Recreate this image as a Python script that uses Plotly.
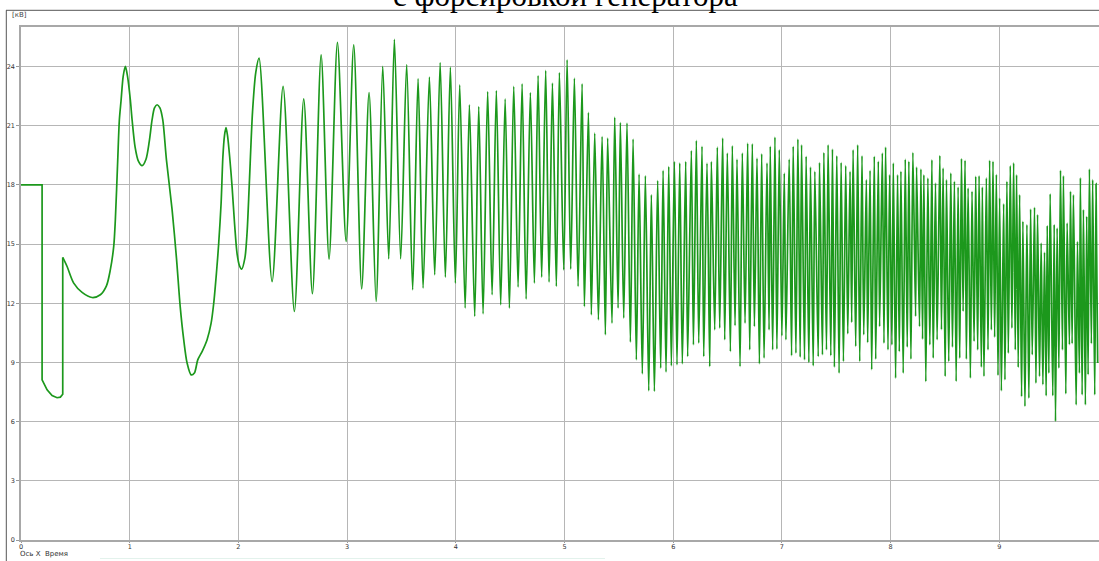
import plotly.graph_objects as go

# ---------------- data (time [s], voltage [kV]) ----------------
t_start = [0, 0.194, 0.194, 0.24, 0.286, 0.332, 0.362, 0.384, 0.384]
v_start = [18, 18, 8.12, 7.61, 7.32, 7.21, 7.24, 7.39, 14.32]

t_swing = [0.384, 0.424, 0.485, 0.562, 0.654, 0.730, 0.786, 0.822, 0.853, 0.868,
           0.890, 0.905, 0.921, 0.940, 0.960, 0.980, 1.006, 1.022, 1.050, 1.080,
           1.114, 1.150, 1.180, 1.206, 1.228, 1.252, 1.278, 1.304, 1.338, 1.390,
           1.430, 1.465, 1.497, 1.528, 1.565, 1.595, 1.626, 1.666, 1.712, 1.749,
           1.773, 1.798, 1.819, 1.841, 1.857, 1.872, 1.886, 1.900, 1.920, 1.942,
           1.965, 1.988, 2.010, 2.030, 2.060, 2.080, 2.100, 2.130, 2.160]
v_swing = [14.32, 13.86, 13.02, 12.55, 12.29, 12.43, 12.88, 13.70, 14.88, 16.23,
           19.27, 21.30, 22.30, 23.50, 24.00, 23.50, 22.30, 21.30, 19.90, 19.20,
           18.97, 19.30, 20.20, 21.30, 21.90, 22.06, 21.90, 21.30, 19.27, 16.74,
           14.30, 11.80, 10.15, 8.97, 8.37, 8.46, 9.13, 9.55, 10.15, 10.99,
           12.00, 13.53, 15.05, 17.08, 19.40, 20.50, 20.90, 20.50, 19.40, 17.90,
           16.00, 14.50, 13.90, 13.73, 14.30, 15.60, 18.00, 21.70, 23.70]

t_grow = [2.190, 2.310, 2.411, 2.515, 2.601, 2.681, 2.761, 2.834, 2.911, 2.991,
          3.061, 3.134, 3.202, 3.267, 3.328, 3.383, 3.435, 3.493, 3.548, 3.603,
          3.653, 3.699, 3.757, 3.806, 3.856, 3.904, 3.950, 3.996, 4.036, 4.086,
          4.125, 4.174, 4.211, 4.251, 4.293, 4.334, 4.373, 4.413, 4.454, 4.493,
          4.533, 4.573, 4.610, 4.647, 4.686, 4.723, 4.757, 4.790, 4.827, 4.858,
          4.889, 4.925, 4.953, 4.993, 5.024, 5.057, 5.091, 5.125, 5.162, 5.183,
          5.220, 5.247, 5.278, 5.312, 5.346, 5.376]
v_grow = [24.42, 13.10, 22.99, 11.58, 22.36, 12.48, 24.59, 14.24, 25.22, 15.13,
          25.10, 12.72, 22.68, 12.09, 24.00, 14.25, 25.37, 14.25, 24.09, 12.68,
          23.38, 12.77, 23.46, 13.44, 24.20, 13.32, 23.97, 13.02, 23.07, 11.75,
          22.06, 11.33, 21.97, 11.46, 22.73, 12.43, 22.78, 11.92, 22.36, 11.75,
          22.99, 12.82, 23.12, 12.21, 22.68, 13.02, 23.54, 13.32, 23.80, 13.07,
          23.16, 12.85, 23.69, 13.69, 24.34, 13.73, 23.41, 12.85, 23.12, 11.83,
          21.67, 11.41, 20.62, 11.16, 20.45, 10.40]

t_dense1 = [5.397, 5.437, 5.462, 5.493, 5.514, 5.545, 5.575, 5.606, 5.631, 5.661,
            5.686, 5.716, 5.744, 5.775, 5.799, 5.827, 5.857, 5.885, 5.907, 5.934,
            5.959, 5.983, 6.011, 6.035, 6.060, 6.084, 6.115, 6.133, 6.167, 6.186,
            6.213, 6.235, 6.265, 6.281, 6.311, 6.336, 6.351, 6.382, 6.406, 6.428,
            6.455, 6.474, 6.498, 6.526, 6.544, 6.569, 6.587, 6.615, 6.636, 6.661,
            6.685, 6.704, 6.728, 6.747, 6.771, 6.793, 6.814, 6.836, 6.863, 6.882]
v_dense1 = [20.37, 10.99, 21.43, 11.75, 21.16, 11.25, 21.13, 10.03, 20.32, 9.13,
            18.54, 8.42, 18.46, 7.56, 17.50, 7.53, 18.22, 8.71, 18.73, 8.51,
            18.93, 8.83, 19.18, 8.88, 19.10, 8.93, 19.18, 9.30, 19.74, 9.89,
            20.25, 9.98, 19.95, 9.30, 19.10, 8.79, 19.18, 10.65, 19.91, 10.74,
            20.37, 10.15, 19.61, 9.55, 19.98, 10.86, 19.30, 8.79, 19.61, 10.99,
            20.11, 9.64, 20.08, 10.82, 19.35, 8.93, 19.57, 9.22, 19.10, 10.65]

t_dense2 = [6.893, 6.915, 6.936, 6.954, 6.976, 7.000, 7.022, 7.037, 7.067, 7.089,
            7.104, 7.129, 7.147, 7.168, 7.181, 7.208, 7.223, 7.248, 7.263, 7.288,
            7.303, 7.334, 7.346, 7.373, 7.386, 7.410, 7.425, 7.450, 7.465, 7.483,
            7.505, 7.526, 7.545, 7.566, 7.587, 7.606, 7.627, 7.642, 7.655, 7.679,
            7.697, 7.716, 7.737, 7.753, 7.777, 7.789, 7.811, 7.826, 7.850, 7.863,
            7.887, 7.899, 7.924, 7.939, 7.954, 7.976, 7.991, 8.012, 8.025, 8.046,
            8.064, 8.080, 8.095, 8.116, 8.135, 8.153, 8.168, 8.187, 8.205, 8.230,
            8.239, 8.266, 8.279, 8.294, 8.306, 8.324, 8.343, 8.361, 8.380, 8.392,
            8.413, 8.428]
v_dense2 = [19.95, 9.64, 20.42, 9.67, 19.78, 10.35, 18.59, 10.15, 19.30, 9.34,
            19.95, 9.47, 20.32, 9.27, 20.03, 9.13, 19.44, 9.00, 18.90, 8.83,
            18.68, 9.30, 19.13, 9.39, 19.64, 9.64, 20.03, 9.34, 19.81, 8.76,
            19.47, 8.46, 19.13, 9.05, 18.97, 10.45, 18.68, 11.03, 19.78, 9.81,
            20.03, 9.05, 19.47, 10.40, 18.26, 10.01, 18.73, 8.63, 19.44, 9.17,
            19.19, 10.82, 19.61, 9.98, 19.91, 9.64, 18.51, 9.89, 19.10, 8.20,
            18.51, 9.55, 18.68, 8.46, 19.30, 9.78, 19.19, 9.17, 19.64, 11.33,
            18.90, 10.82, 18.80, 10.18, 18.51, 8.03, 18.34, 9.89, 19.27, 9.22,
            18.09, 10.15]

t_dense3 = [8.453, 8.468, 8.483, 8.502, 8.514, 8.535, 8.554, 8.569, 8.587, 8.603,
            8.621, 8.636, 8.652, 8.667, 8.685, 8.697, 8.713, 8.734, 8.749, 8.768,
            8.783, 8.801, 8.814, 8.835, 8.844, 8.859, 8.881, 8.896, 8.911, 8.927,
            8.942, 8.957, 8.973, 8.988, 9.003, 9.019, 9.040, 9.052, 9.070, 9.083,
            9.101, 9.116, 9.132, 9.147, 9.159, 9.174, 9.187, 9.205, 9.217, 9.236,
            9.254, 9.272, 9.288, 9.303, 9.324, 9.337, 9.352, 9.370, 9.385, 9.401,
            9.416, 9.431, 9.441, 9.456, 9.468, 9.492, 9.505, 9.517, 9.532, 9.548,
            9.563, 9.581, 9.590, 9.612, 9.624, 9.645, 9.655, 9.670, 9.682, 9.707,
            9.719, 9.737, 9.746, 9.762, 9.774, 9.792, 9.804, 9.817, 9.829, 9.847,
            9.859, 9.878, 9.890, 9.905]
v_dense3 = [19.48, 10.66, 18.85, 8.29, 18.26, 9.05, 18.60, 9.78, 18.18, 8.04,
            17.89, 9.22, 19.33, 11.59, 19.24, 9.17, 17.84, 8.21, 17.67, 10.07,
            18.43, 9.64, 18.46, 8.76, 17.89, 8.29, 18.35, 9.64, 19.24, 10.65,
            19.19, 10.28, 18.52, 8.34, 17.33, 7.56, 17.04, 8.12, 18.18, 9.47,
            18.97, 10.74, 19.11, 9.64, 18.51, 8.75, 17.50, 7.27, 16.15, 6.77,
            15.98, 7.19, 16.77, 9.39, 16.86, 7.95, 16.49, 8.29, 15.05, 7.87,
            14.58, 7.31, 15.93, 8.46, 17.55, 7.31, 15.98, 6.01, 15.81, 8.71,
            18.73, 9.64, 18.46, 7.41, 16.06, 9.90, 17.67, 9.95, 17.50, 6.85,
            15.13, 8.46, 18.35, 7.36, 16.74, 6.85, 16.40, 8.38, 18.80, 9.95,
            18.26, 7.36, 18.06, 8.97]

x_ticks = [0, 1, 2, 3, 4, 5, 6, 7, 8, 9]
y_ticks = [0, 3, 6, 9, 12, 15, 18, 21, 24]

title_text = "с форсировкой генератора"
unit_text = "[кВ]"
xaxis_text = "Ось X\u00a0 Время"

# ---------------- figure ----------------
GREEN = "#1c981c"
W, H = 1099, 561
ML, MR, MT, MB = 21, 0, 27, 21
PW, PH = W - ML - MR, H - MT - MB


def px_x(p):
    return (p - ML) / PW


def px_y(p):
    return (H - MB - p) / PH


fig = go.Figure()
fig.add_trace(go.Scatter(x=t_start, y=v_start, mode="lines",
                         line=dict(color=GREEN, width=1.7), hoverinfo="skip"))
t_wave = t_swing + t_grow + t_dense1 + t_dense2 + t_dense3
v_wave = v_swing + v_grow + v_dense1 + v_dense2 + v_dense3
fig.add_trace(go.Scatter(x=t_wave, y=v_wave, mode="lines",
                         line=dict(color=GREEN, width=1.7, shape="spline", smoothing=0.8),
                         hoverinfo="skip"))

tick_font = dict(family="DejaVu Sans", size=6.5, color="#333333")

fig.update_layout(
    width=W, height=H,
    margin=dict(l=ML, r=MR, t=MT, b=MB, pad=0),
    paper_bgcolor="white", plot_bgcolor="white",
    showlegend=False,
    xaxis=dict(range=[0, (W - ML) / 108.7], tickmode="array", tickvals=x_ticks,
               ticktext=[str(v) for v in x_ticks], showgrid=True, gridcolor="#b6b6b6",
               gridwidth=1, zeroline=False, showline=True, linecolor="#a8a8a8",
               linewidth=2, mirror=True, ticks="outside", ticklen=1, tickcolor="#999999",
               ticklabelstandoff=-2, tickfont=tick_font, fixedrange=True),
    yaxis=dict(range=[0, 26.0], tickmode="array", tickvals=y_ticks,
               ticktext=[str(v) for v in y_ticks], showgrid=True, gridcolor="#b6b6b6",
               gridwidth=1, zeroline=False, showline=True, linecolor="#a8a8a8",
               linewidth=1.5, ticks="outside", ticklen=3, tickcolor="#999999",
               tickfont=tick_font, fixedrange=True),
    shapes=[
        dict(type="line", xref="paper", yref="paper", x0=px_x(6), x1=px_x(W + 2),
             y0=px_y(10.3), y1=px_y(10.3), line=dict(color="#555555", width=1)),
        dict(type="line", xref="paper", yref="paper", x0=px_x(6.3), x1=px_x(6.3),
             y0=px_y(10.3), y1=px_y(H + 2), line=dict(color="#555555", width=1)),
        dict(type="line", xref="paper", yref="paper", x0=px_x(100), x1=px_x(605),
             y0=px_y(558.5), y1=px_y(558.5), line=dict(color="#e3f2ec", width=1)),
    ],
    annotations=[
        dict(text=title_text, xref="paper", yref="paper", x=px_x(565), y=px_y(15),
             xanchor="center", yanchor="bottom", showarrow=False,
             font=dict(family="Liberation Serif", size=31, color="black")),
        dict(text=unit_text, xref="paper", yref="paper", x=px_x(19.7), y=px_y(15),
             xanchor="center", yanchor="middle", showarrow=False,
             font=dict(family="DejaVu Sans", size=7, color="#444444")),
        dict(text=xaxis_text, xref="paper", yref="paper", x=px_x(18), y=px_y(554),
             xanchor="left", yanchor="middle", showarrow=False,
             font=dict(family="DejaVu Sans", size=7, color="#333333")),
    ],
)

fig.write_html("out.html", config={"displayModeBar": False})
